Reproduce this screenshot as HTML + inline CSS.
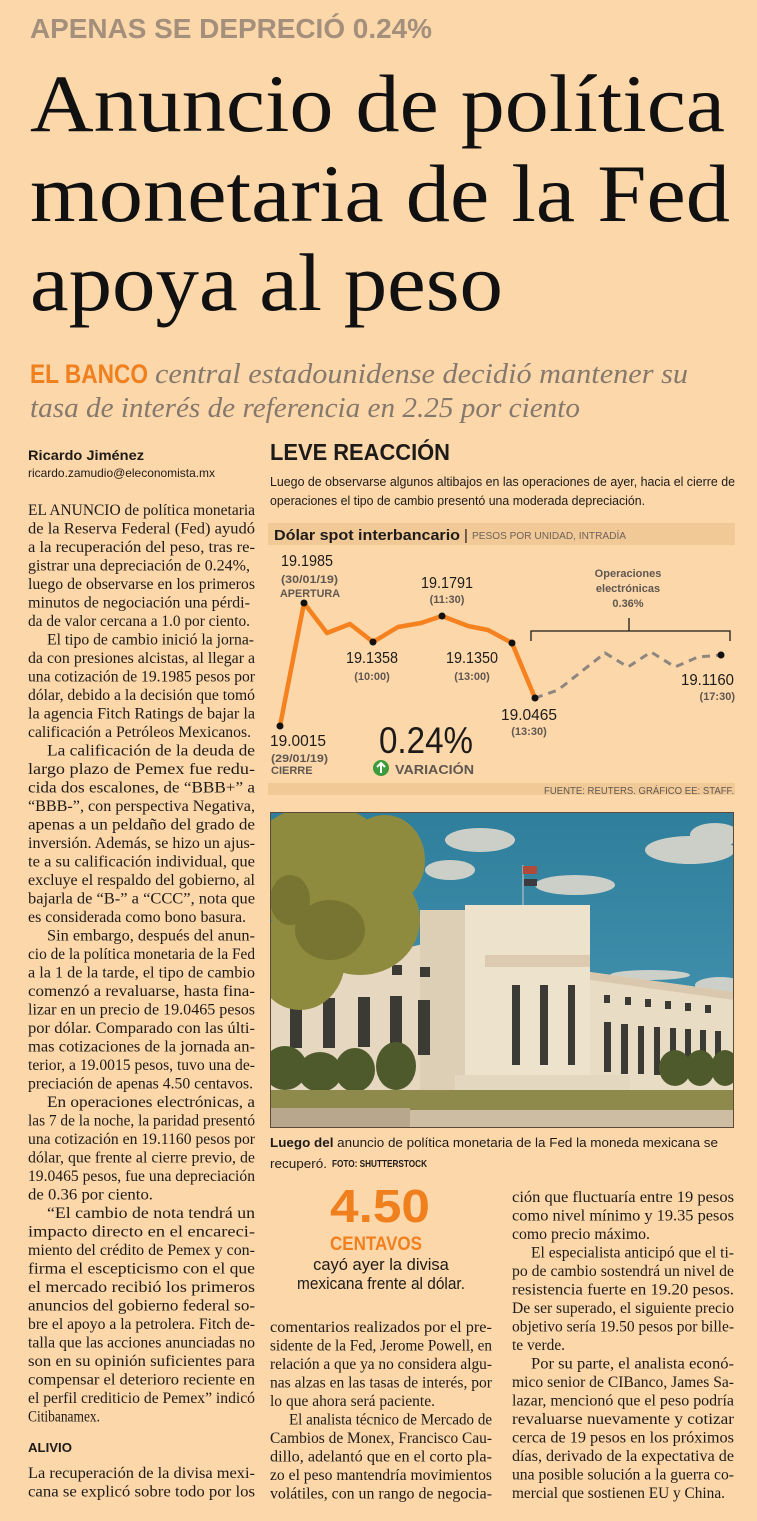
<!DOCTYPE html>
<html><head><meta charset="utf-8"><style>
html,body{margin:0;padding:0;background:#fcd7aa;}
svg{display:block}
.b{font-family:"Liberation Serif",serif;font-size:15.5px;fill:#1d1b19}
.s{font-family:"Liberation Sans",sans-serif}
</style></head><body>
<svg width="757" height="1521" viewBox="0 0 757 1521" xmlns="http://www.w3.org/2000/svg">
<rect width="757" height="1521" fill="#fcd7aa"/>
<!-- kicker -->
<text x="30" y="38" class="s" font-size="28" font-weight="bold" fill="#a38f7b" textLength="402" lengthAdjust="spacingAndGlyphs">APENAS SE DEPRECIÓ 0.24%</text>
<!-- headline -->
<g font-family="Liberation Serif, serif" font-size="82" fill="#111">
<text x="30" y="131" textLength="695" lengthAdjust="spacingAndGlyphs">Anuncio de política</text>
<text x="30" y="221" textLength="700" lengthAdjust="spacingAndGlyphs">monetaria de la Fed</text>
<text x="30" y="310" textLength="473" lengthAdjust="spacingAndGlyphs">apoya al peso</text>
</g>
<!-- deck -->
<text x="30" y="383" class="s" font-size="27" font-weight="bold" fill="#f07f1e" textLength="118" lengthAdjust="spacingAndGlyphs">EL BANCO</text>
<g font-family="Liberation Serif, serif" font-style="italic" font-size="28" fill="#85786c">
<text x="155" y="383" textLength="533" lengthAdjust="spacingAndGlyphs">central estadounidense decidió mantener su</text>
<text x="30" y="417" textLength="550" lengthAdjust="spacingAndGlyphs">tasa de interés de referencia en 2.25 por ciento</text>
</g>
<!-- byline -->
<text x="28" y="460" class="s" font-size="14" font-weight="bold" fill="#1d1b19" textLength="116" lengthAdjust="spacingAndGlyphs">Ricardo Jiménez</text>
<text x="28" y="477" class="s" font-size="12" fill="#1d1b19" textLength="187" lengthAdjust="spacingAndGlyphs">ricardo.zamudio@eleconomista.mx</text>

<!-- left column -->
<g class="b">
<text x="28" y="515" textLength="227" lengthAdjust="spacingAndGlyphs">EL ANUNCIO de política monetaria</text>
<text x="28" y="533.5" textLength="227" lengthAdjust="spacingAndGlyphs">de la Reserva Federal (Fed) ayudó</text>
<text x="28" y="552" textLength="227" lengthAdjust="spacingAndGlyphs">a la recuperación del peso, tras re-</text>
<text x="28" y="570.5" textLength="222" lengthAdjust="spacingAndGlyphs">gistrar una depreciación de 0.24%,</text>
<text x="28" y="589" textLength="227" lengthAdjust="spacingAndGlyphs">luego de observarse en los primeros</text>
<text x="28" y="607.5" textLength="222" lengthAdjust="spacingAndGlyphs">minutos de negociación una pérdi-</text>
<text x="28" y="626" textLength="222" lengthAdjust="spacingAndGlyphs">da de valor cercana a 1.0 por ciento.</text>
<text x="47" y="644.5" textLength="207" lengthAdjust="spacingAndGlyphs">El tipo de cambio inició la jorna-</text>
<text x="28" y="663" textLength="227" lengthAdjust="spacingAndGlyphs">da con presiones alcistas, al llegar a</text>
<text x="28" y="681.5" textLength="227" lengthAdjust="spacingAndGlyphs">una cotización de 19.1985 pesos por</text>
<text x="28" y="700" textLength="227" lengthAdjust="spacingAndGlyphs">dólar, debido a la decisión que tomó</text>
<text x="28" y="718.5" textLength="227" lengthAdjust="spacingAndGlyphs">la agencia Fitch Ratings de bajar la</text>
<text x="28" y="737" textLength="223" lengthAdjust="spacingAndGlyphs">calificación a Petróleos Mexicanos.</text>
<text x="47" y="755.5" textLength="208" lengthAdjust="spacingAndGlyphs">La calificación de la deuda de</text>
<text x="28" y="774" textLength="227" lengthAdjust="spacingAndGlyphs">largo plazo de Pemex fue redu-</text>
<text x="28" y="792.5" textLength="227" lengthAdjust="spacingAndGlyphs">cida dos escalones, de “BBB+” a</text>
<text x="28" y="811" textLength="227" lengthAdjust="spacingAndGlyphs">“BBB-”, con perspectiva Negativa,</text>
<text x="28" y="829.5" textLength="227" lengthAdjust="spacingAndGlyphs">apenas a un peldaño del grado de</text>
<text x="28" y="848" textLength="227" lengthAdjust="spacingAndGlyphs">inversión. Además, se hizo un ajus-</text>
<text x="28" y="866.5" textLength="227" lengthAdjust="spacingAndGlyphs">te a su calificación individual, que</text>
<text x="28" y="885" textLength="227" lengthAdjust="spacingAndGlyphs">excluye el respaldo del gobierno, al</text>
<text x="28" y="903.5" textLength="227" lengthAdjust="spacingAndGlyphs">bajarla de “B-” a “CCC”, nota que</text>
<text x="28" y="922" textLength="218" lengthAdjust="spacingAndGlyphs">es considerada como bono basura.</text>
<text x="47" y="940.5" textLength="208" lengthAdjust="spacingAndGlyphs">Sin embargo, después del anun-</text>
<text x="28" y="959" textLength="227" lengthAdjust="spacingAndGlyphs">cio de la política monetaria de la Fed</text>
<text x="28" y="977.5" textLength="227" lengthAdjust="spacingAndGlyphs">a la 1 de la tarde, el tipo de cambio</text>
<text x="28" y="996" textLength="227" lengthAdjust="spacingAndGlyphs">comenzó a revaluarse, hasta fina-</text>
<text x="28" y="1014.5" textLength="227" lengthAdjust="spacingAndGlyphs">lizar en un precio de 19.0465 pesos</text>
<text x="28" y="1033" textLength="227" lengthAdjust="spacingAndGlyphs">por dólar. Comparado con las últi-</text>
<text x="28" y="1051.5" textLength="227" lengthAdjust="spacingAndGlyphs">mas cotizaciones de la jornada an-</text>
<text x="28" y="1070" textLength="227" lengthAdjust="spacingAndGlyphs">terior, a 19.0015 pesos, tuvo una de-</text>
<text x="28" y="1088.5" textLength="225" lengthAdjust="spacingAndGlyphs">preciación de apenas 4.50 centavos.</text>
<text x="47" y="1107" textLength="208" lengthAdjust="spacingAndGlyphs">En operaciones electrónicas, a</text>
<text x="28" y="1125.5" textLength="227" lengthAdjust="spacingAndGlyphs">las 7 de la noche, la paridad presentó</text>
<text x="28" y="1144" textLength="227" lengthAdjust="spacingAndGlyphs">una cotización en 19.1160 pesos por</text>
<text x="28" y="1162.5" textLength="227" lengthAdjust="spacingAndGlyphs">dólar, que frente al cierre previo, de</text>
<text x="28" y="1181" textLength="227" lengthAdjust="spacingAndGlyphs">19.0465 pesos, fue una depreciación</text>
<text x="28" y="1199.5" textLength="125" lengthAdjust="spacingAndGlyphs">de 0.36 por ciento.</text>
<text x="47" y="1218" textLength="208" lengthAdjust="spacingAndGlyphs">“El cambio de nota tendrá un</text>
<text x="28" y="1236.5" textLength="227" lengthAdjust="spacingAndGlyphs">impacto directo en el encareci-</text>
<text x="28" y="1255" textLength="227" lengthAdjust="spacingAndGlyphs">miento del crédito de Pemex y con-</text>
<text x="28" y="1273.5" textLength="227" lengthAdjust="spacingAndGlyphs">firma el escepticismo con el que</text>
<text x="28" y="1292" textLength="227" lengthAdjust="spacingAndGlyphs">el mercado recibió los primeros</text>
<text x="28" y="1310.5" textLength="227" lengthAdjust="spacingAndGlyphs">anuncios del gobierno federal so-</text>
<text x="28" y="1329" textLength="227" lengthAdjust="spacingAndGlyphs">bre el apoyo a la petrolera. Fitch de-</text>
<text x="28" y="1347.5" textLength="227" lengthAdjust="spacingAndGlyphs">talla que las acciones anunciadas no</text>
<text x="28" y="1366" textLength="227" lengthAdjust="spacingAndGlyphs">son en su opinión suficientes para</text>
<text x="28" y="1384.5" textLength="227" lengthAdjust="spacingAndGlyphs">compensar el deterioro reciente en</text>
<text x="28" y="1403" textLength="227" lengthAdjust="spacingAndGlyphs">el perfil crediticio de Pemex” indicó</text>
<text x="28" y="1421.5" textLength="72" lengthAdjust="spacingAndGlyphs">Citibanamex.</text>
<text x="28" y="1478" textLength="227" lengthAdjust="spacingAndGlyphs">La recuperación de la divisa mexi-</text>
<text x="28" y="1496.5" textLength="227" lengthAdjust="spacingAndGlyphs">cana se explicó sobre todo por los</text>
</g>
<text x="28" y="1452" class="s" font-size="13" font-weight="bold" fill="#1d1b19" textLength="44" lengthAdjust="spacingAndGlyphs">ALIVIO</text>

<!-- chart intro -->
<text x="270" y="460" class="s" font-size="23" font-weight="bold" fill="#1d1b19" textLength="180" lengthAdjust="spacingAndGlyphs">LEVE REACCIÓN</text>
<g class="s" font-size="12.5" fill="#1d1b19">
<text x="270" y="486" textLength="465" lengthAdjust="spacingAndGlyphs">Luego de observarse algunos altibajos en las operaciones de ayer, hacia el cierre de</text>
<text x="270" y="505" textLength="375" lengthAdjust="spacingAndGlyphs">operaciones el tipo de cambio presentó una moderada depreciación.</text>
</g>
<rect x="268" y="523" width="467" height="22" fill="#f1c997"/>
<text x="274" y="540" class="s" font-size="15" font-weight="bold" fill="#1d1b19" textLength="186" lengthAdjust="spacingAndGlyphs">Dólar spot interbancario</text>
<text x="464" y="540" class="s" font-size="15" fill="#1d1b19">|</text>
<text x="472" y="539" class="s" font-size="10" fill="#6d625a" textLength="154" lengthAdjust="spacingAndGlyphs">PESOS POR UNIDAD, INTRADÍA</text>

<!-- bracket -->
<path d="M531 641 V631 H730 V641 M629 631 V618" stroke="#1d1b19" stroke-width="1.3" fill="none"/>
<!-- series -->
<polyline points="535,698 558,690 605,653 628,667 651,652 675,667 698,657 721,655" fill="none" stroke="#8d8780" stroke-width="3" stroke-dasharray="8,6"/>
<polyline points="280,726 304,603 327,633 350,624 373,642 398,627 421,623 442,616 468,626 488,630 512,643 535,698" fill="none" stroke="#f5821f" stroke-width="4.5" stroke-linejoin="round"/>
<g fill="#111">
<circle cx="280" cy="726" r="3.5"/><circle cx="304" cy="603" r="3.5"/><circle cx="373" cy="642" r="3.5"/><circle cx="442" cy="616" r="3.5"/><circle cx="512" cy="643" r="3.5"/><circle cx="535" cy="698" r="3.5"/><circle cx="721" cy="655" r="3.5"/>
</g>
<g class="s" font-size="16" fill="#1d1b19">
<text x="281" y="566" textLength="52" lengthAdjust="spacingAndGlyphs">19.1985</text>
<text x="421" y="588" textLength="52" lengthAdjust="spacingAndGlyphs">19.1791</text>
<text x="346" y="663" textLength="52" lengthAdjust="spacingAndGlyphs">19.1358</text>
<text x="446" y="663" textLength="52" lengthAdjust="spacingAndGlyphs">19.1350</text>
<text x="501" y="720" textLength="56" lengthAdjust="spacingAndGlyphs">19.0465</text>
<text x="681" y="685" textLength="53" lengthAdjust="spacingAndGlyphs">19.1160</text>
<text x="270" y="746" textLength="56" lengthAdjust="spacingAndGlyphs">19.0015</text>
</g>
<g class="s" font-size="11" font-weight="bold" fill="#5f5750">
<text x="281" y="583" textLength="57" lengthAdjust="spacingAndGlyphs">(30/01/19)</text>
<text x="280" y="597" textLength="60" lengthAdjust="spacingAndGlyphs">APERTURA</text>
<text x="447" y="603" text-anchor="middle">(11:30)</text>
<text x="372" y="680" text-anchor="middle">(10:00)</text>
<text x="472" y="680" text-anchor="middle">(13:00)</text>
<text x="529" y="735" text-anchor="middle">(13:30)</text>
<text x="735" y="700" text-anchor="end">(17:30)</text>
<text x="271" y="762" textLength="57" lengthAdjust="spacingAndGlyphs">(29/01/19)</text>
<text x="271" y="774">CIERRE</text>
<text x="628" y="577" text-anchor="middle">Operaciones</text>
<text x="628" y="592" text-anchor="middle">electrónicas</text>
<text x="628" y="607" text-anchor="middle">0.36%</text>
</g>
<text x="379" y="753" class="s" font-size="37" fill="#1d1b19" textLength="94" lengthAdjust="spacingAndGlyphs">0.24%</text>
<circle cx="381" cy="768" r="8" fill="#3d9a3d"/>
<path d="M381 773 V764 M377 767 L381 763 L385 767" stroke="#fff" stroke-width="2" fill="none"/>
<text x="395" y="774" class="s" font-size="13" font-weight="bold" fill="#5f5750" textLength="79" lengthAdjust="spacingAndGlyphs">VARIACIÓN</text>
<rect x="268" y="783" width="467" height="12" fill="#f1c997"/>
<text x="734" y="794" class="s" font-size="10" fill="#5f5750" text-anchor="end" textLength="190" lengthAdjust="spacingAndGlyphs">FUENTE: REUTERS. GRÁFICO EE: STAFF.</text>

<!-- photo -->
<defs>
<linearGradient id="sky" x1="0" y1="0" x2="0" y2="1"><stop offset="0" stop-color="#2f7f9c"/><stop offset="1" stop-color="#4a9ab6"/></linearGradient>
<clipPath id="pc"><rect x="270" y="812" width="464" height="316"/></clipPath>
</defs>
<g clip-path="url(#pc)">
<rect x="270" y="812" width="464" height="316" fill="url(#sky)"/>
<g fill="#dcd8cc" opacity="0.9">
<ellipse cx="480" cy="840" rx="35" ry="12"/><ellipse cx="450" cy="870" rx="25" ry="10"/>
<ellipse cx="575" cy="885" rx="40" ry="10"/><ellipse cx="690" cy="850" rx="45" ry="14"/><ellipse cx="715" cy="835" rx="25" ry="12"/>
<ellipse cx="650" cy="975" rx="40" ry="5"/><ellipse cx="720" cy="985" rx="25" ry="8"/>
</g>
<line x1="523" y1="865" x2="523" y2="915" stroke="#ccc" stroke-width="1"/>
<rect x="523" y="866" width="14" height="8" fill="#b04a3a"/><rect x="524" y="879" width="13" height="7" fill="#3a3a40"/>
<!-- wings -->
<polygon points="270,980 440,940 440,1095 270,1095" fill="#e6d8c0"/>
<polygon points="590,972 734,992 734,1090 590,1090" fill="#e9dcc4"/>
<polygon points="590,972 734,992 734,1000 590,980" fill="#d9c8ad"/>
<rect x="420" y="910" width="50" height="185" fill="#ddcfb6"/>
<rect x="465" y="905" width="125" height="190" fill="#ede2cc"/>
<rect x="485" y="955" width="105" height="12" fill="#dccbb0"/>
<g fill="#3b3a35">
<rect x="290" y="998" width="12" height="50"/><rect x="323" y="998" width="12" height="50"/><rect x="358" y="997" width="12" height="50"/><rect x="390" y="996" width="12" height="50"/><rect x="418" y="1000" width="12" height="55"/>
<rect x="512" y="985" width="8" height="80"/><rect x="540" y="985" width="8" height="80"/><rect x="568" y="985" width="7" height="80"/>
<rect x="604" y="1022" width="7" height="50"/><rect x="621" y="1024" width="7" height="50"/><rect x="638" y="1026" width="6" height="48"/><rect x="654" y="1027" width="6" height="48"/><rect x="670" y="1028" width="6" height="48"/><rect x="685" y="1029" width="6" height="48"/><rect x="700" y="1030" width="6" height="46"/><rect x="715" y="1031" width="6" height="46"/>
<rect x="392" y="965" width="10" height="10"/><rect x="420" y="967" width="10" height="10"/>
<rect x="604" y="995" width="6" height="8"/><rect x="625" y="997" width="6" height="8"/><rect x="645" y="999" width="6" height="8"/><rect x="665" y="1001" width="6" height="8"/><rect x="685" y="1003" width="6" height="8"/><rect x="705" y="1005" width="6" height="8"/>
</g>
<rect x="455" y="1075" width="175" height="22" fill="#e4d7c0"/>
<!-- tree -->
<g fill="#8e8b3e">
<ellipse cx="320" cy="870" rx="75" ry="65"/><ellipse cx="360" cy="920" rx="60" ry="55"/><ellipse cx="300" cy="960" rx="45" ry="50"/><ellipse cx="385" cy="860" rx="40" ry="45"/>
</g>
<g fill="#6e6c2c" opacity="0.7"><ellipse cx="330" cy="930" rx="35" ry="30"/><ellipse cx="290" cy="900" rx="20" ry="25"/></g>
<!-- bushes -->
<g fill="#4f5a2c">
<ellipse cx="285" cy="1068" rx="22" ry="22"/><ellipse cx="320" cy="1072" rx="22" ry="20"/><ellipse cx="355" cy="1070" rx="20" ry="22"/><ellipse cx="396" cy="1066" rx="20" ry="24"/>
<ellipse cx="675" cy="1068" rx="16" ry="18"/><ellipse cx="700" cy="1068" rx="15" ry="18"/><ellipse cx="725" cy="1068" rx="14" ry="18"/>
</g>
<rect x="270" y="1090" width="464" height="22" fill="#8e8a4c"/>
<rect x="270" y="1110" width="464" height="18" fill="#cdbda2"/>
<rect x="270" y="1108" width="140" height="20" fill="#b8a78c"/>
</g>
<rect x="270.5" y="812.5" width="463" height="315" fill="none" stroke="#5a4a3a" stroke-width="1"/>

<!-- caption -->
<text x="270" y="1147" class="s" font-size="13" fill="#1d1b19" textLength="448" lengthAdjust="spacingAndGlyphs"><tspan font-weight="bold">Luego del</tspan> anuncio de política monetaria de la Fed la moneda mexicana se</text>
<text x="270" y="1168" class="s" font-size="13" fill="#1d1b19" textLength="57" lengthAdjust="spacingAndGlyphs">recuperó.</text>
<text x="332" y="1167" class="s" font-size="10" font-weight="bold" fill="#1d1b19" textLength="95" lengthAdjust="spacingAndGlyphs">FOTO: SHUTTERSTOCK</text>

<!-- 4.50 box -->
<text x="330" y="1222" class="s" font-size="46" font-weight="bold" fill="#f07f1e" textLength="100" lengthAdjust="spacingAndGlyphs">4.50</text>
<text x="330" y="1250" class="s" font-size="19" font-weight="bold" fill="#f07f1e" textLength="92" lengthAdjust="spacingAndGlyphs">CENTAVOS</text>
<text x="381" y="1270" class="s" font-size="16.5" fill="#1d1b19" text-anchor="middle">cayó ayer la divisa</text>
<text x="381" y="1289" class="s" font-size="16.5" fill="#1d1b19" text-anchor="middle" textLength="168" lengthAdjust="spacingAndGlyphs">mexicana frente al dólar.</text>

<!-- middle column -->
<g class="b">
<text x="270" y="1332" textLength="222" lengthAdjust="spacingAndGlyphs">comentarios realizados por el pre-</text>
<text x="270" y="1350.5" textLength="222" lengthAdjust="spacingAndGlyphs">sidente de la Fed, Jerome Powell, en</text>
<text x="270" y="1369" textLength="222" lengthAdjust="spacingAndGlyphs">relación a que ya no considera algu-</text>
<text x="270" y="1387.5" textLength="222" lengthAdjust="spacingAndGlyphs">nas alzas en las tasas de interés, por</text>
<text x="270" y="1406" textLength="165" lengthAdjust="spacingAndGlyphs">lo que ahora será paciente.</text>
<text x="289" y="1424.5" textLength="203" lengthAdjust="spacingAndGlyphs">El analista técnico de Mercado de</text>
<text x="270" y="1443" textLength="222" lengthAdjust="spacingAndGlyphs">Cambios de Monex, Francisco Cau-</text>
<text x="270" y="1461.5" textLength="222" lengthAdjust="spacingAndGlyphs">dillo, adelantó que en el corto pla-</text>
<text x="270" y="1480" textLength="222" lengthAdjust="spacingAndGlyphs">zo el peso mantendría movimientos</text>
<text x="270" y="1498.5" textLength="222" lengthAdjust="spacingAndGlyphs">volátiles, con un rango de negocia-</text>
</g>
<!-- right column -->
<g class="b">
<text x="512" y="1202" textLength="222" lengthAdjust="spacingAndGlyphs">ción que fluctuaría entre 19 pesos</text>
<text x="512" y="1220.5" textLength="222" lengthAdjust="spacingAndGlyphs">como nivel mínimo y 19.35 pesos</text>
<text x="512" y="1239" textLength="138" lengthAdjust="spacingAndGlyphs">como precio máximo.</text>
<text x="531" y="1257.5" textLength="203" lengthAdjust="spacingAndGlyphs">El especialista anticipó que el ti-</text>
<text x="512" y="1276" textLength="222" lengthAdjust="spacingAndGlyphs">po de cambio sostendrá un nivel de</text>
<text x="512" y="1294.5" textLength="222" lengthAdjust="spacingAndGlyphs">resistencia fuerte en 19.20 pesos.</text>
<text x="512" y="1313" textLength="222" lengthAdjust="spacingAndGlyphs">De ser superado, el siguiente precio</text>
<text x="512" y="1331.5" textLength="222" lengthAdjust="spacingAndGlyphs">objetivo sería 19.50 pesos por bille-</text>
<text x="512" y="1350" textLength="53" lengthAdjust="spacingAndGlyphs">te verde.</text>
<text x="531" y="1368.5" textLength="203" lengthAdjust="spacingAndGlyphs">Por su parte, el analista econó-</text>
<text x="512" y="1387" textLength="222" lengthAdjust="spacingAndGlyphs">mico senior de CIBanco, James Sa-</text>
<text x="512" y="1405.5" textLength="222" lengthAdjust="spacingAndGlyphs">lazar, mencionó que el peso podría</text>
<text x="512" y="1424" textLength="222" lengthAdjust="spacingAndGlyphs">revaluarse nuevamente y cotizar</text>
<text x="512" y="1442.5" textLength="222" lengthAdjust="spacingAndGlyphs">cerca de 19 pesos en los próximos</text>
<text x="512" y="1461" textLength="222" lengthAdjust="spacingAndGlyphs">días, derivado de la expectativa de</text>
<text x="512" y="1479.5" textLength="222" lengthAdjust="spacingAndGlyphs">una posible solución a la guerra co-</text>
<text x="512" y="1498" textLength="213" lengthAdjust="spacingAndGlyphs">mercial que sostienen EU y China.</text>
</g>
</svg>
</body></html>
